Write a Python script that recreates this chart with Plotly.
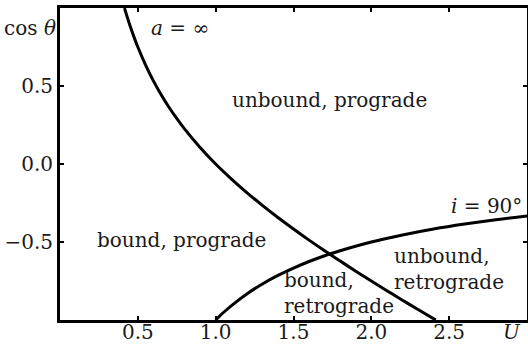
import plotly.graph_objects as go

# Curve a = infinity (parabolic boundary): U vs cos(theta)
a_inf_U = [0.4142, 0.43, 0.45, 0.475, 0.5, 0.55, 0.6, 0.65, 0.7, 0.75, 0.8, 0.9, 1.0,
           1.1, 1.2, 1.3, 1.4, 1.5, 1.6, 1.7, 1.8, 1.9, 2.0, 2.1, 2.2, 2.3, 2.4142]
a_inf_cos = [1.0, 0.948, 0.886, 0.815, 0.750, 0.634, 0.533, 0.444, 0.364, 0.292, 0.225,
             0.106, 0.0, -0.095, -0.183, -0.265, -0.343, -0.417, -0.488, -0.556, -0.622,
             -0.687, -0.750, -0.812, -0.873, -0.933, -1.0]

# Curve i = 90 deg
i90_U = [1.0, 1.05, 1.1, 1.2, 1.3, 1.4, 1.5, 1.6, 1.7, 1.8, 2.0, 2.2, 2.4, 2.6, 2.8, 3.0]
i90_cos = [-1.0, -0.952, -0.909, -0.833, -0.769, -0.714, -0.667, -0.625, -0.588, -0.556,
           -0.5, -0.455, -0.417, -0.385, -0.357, -0.333]

x_ticks = [0.5, 1.0, 1.5, 2.0, 2.5]
y_ticks = [-0.5, 0.0, 0.5]

FONT = "DejaVu Serif"
SIZE = 20
INK = "#1a1a1a"

fig = go.Figure()
for xs, ys in [(a_inf_U, a_inf_cos), (i90_U, i90_cos)]:
    fig.add_trace(go.Scatter(x=xs, y=ys, mode="lines", line=dict(color="black", width=3, shape="spline"),
                             showlegend=False, hoverinfo="skip"))

axis_common = dict(showgrid=False, zeroline=False, showline=True, linecolor="black", linewidth=3,
                   mirror="allticks", ticks="inside", ticklen=4, tickwidth=2, tickcolor="black",
                   automargin=False, tickfont=dict(family=FONT, size=SIZE, color=INK))
fig.update_xaxes(range=[0, 3], tickvals=x_ticks, tickformat=".1f", ticklabelstandoff=-8, **axis_common)
fig.update_yaxes(range=[-1, 1], tickvals=y_ticks, tickformat=".1f", **axis_common)

labels = [
    (0.77, 0.87, "<i>a</i> = ∞"),
    (1.73, 0.41, "unbound, prograde"),
    (0.78, -0.49, "bound, prograde"),
    (2.74, -0.27, "<i>i</i> = 90°"),
    (1.79, -0.83, "bound,<br>retrograde"),
    (2.5, -0.67, "unbound,<br>retrograde"),
]
for x, y, t in labels:
    fig.add_annotation(x=x, y=y, text=t, showarrow=False, align="left",
                       font=dict(family=FONT, size=SIZE, color=INK))

fig.add_annotation(xref="paper", yref="paper", x=-0.065, y=0.935, text="cos <i>θ</i>", showarrow=False,
                   xanchor="center", yanchor="middle", font=dict(family=FONT, size=SIZE, color=INK))
fig.add_annotation(xref="paper", yref="paper", x=0.968, y=-0.04, text="<i>U</i>", showarrow=False,
                   xanchor="center", yanchor="middle", font=dict(family=FONT, size=SIZE, color=INK))

fig.update_layout(width=528, height=345, margin=dict(l=60, r=1, t=8, b=25),
                  paper_bgcolor="white", plot_bgcolor="white")
fig.write_html("out.html")
